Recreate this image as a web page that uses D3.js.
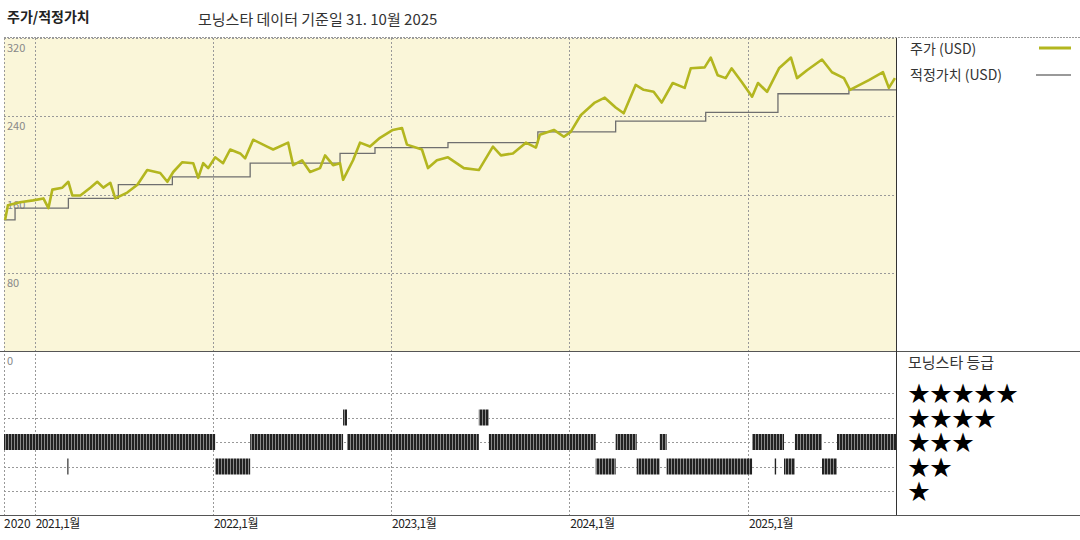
<!DOCTYPE html>
<html>
<head>
<meta charset="utf-8">
<script src="https://cdn.jsdelivr.net/npm/d3@7/dist/d3.min.js"></script>
<style>
body{margin:0;background:#fff;}
text{font-family:"Noto Sans CJK KR","DejaVu Sans",sans-serif;}
</style>
</head>
<body>
<svg width="1080" height="540"></svg>
<script>
// price (decimal year, USD)
var priceT = [2020.836,2020.852,2020.920,2020.993,2021.049,2021.077,2021.099,2021.155,2021.189,2021.211,2021.256,2021.312,2021.351,2021.385,2021.424,2021.452,2021.519,2021.576,2021.631,2021.704,2021.744,2021.777,2021.828,2021.889,2021.917,2021.945,2021.973,2022.013,2022.057,2022.097,2022.153,2022.181,2022.226,2022.304,2022.338,2022.422,2022.450,2022.500,2022.545,2022.601,2022.629,2022.674,2022.713,2022.730,2022.786,2022.825,2022.881,2022.937,2023.010,2023.061,2023.089,2023.173,2023.207,2023.257,2023.319,2023.408,2023.492,2023.571,2023.616,2023.683,2023.756,2023.812,2023.834,2023.913,2023.969,2024.008,2024.064,2024.143,2024.199,2024.260,2024.305,2024.372,2024.417,2024.473,2024.518,2024.580,2024.647,2024.681,2024.759,2024.793,2024.832,2024.877,2024.910,2024.967,2025.023,2025.056,2025.107,2025.174,2025.241,2025.275,2025.331,2025.415,2025.471,2025.538,2025.572,2025.678,2025.757,2025.790,2025.824];
var priceV = [134,149,152,154,156,146,165,167,173,159,159,167,173,167,172,156,162,170,185,182,173,183,193,192,177,192,187,198,192,206,202,197,216,209,206,213,190,195,183,187,200,190,192,175,195,213,209,218,226,228,211,206,187,195,198,187,185,209,200,202,213,208,221,226,219,224,241,254,259,249,243,272,267,265,254,274,269,289,290,300,282,279,289,275,260,274,265,289,300,279,287,298,285,279,267,277,285,269,279];

// fair value steps
var fairT = [2020.830,2020.892,2021.189,2021.469,2021.772,2022.209,2022.713,2022.909,2023.319,2023.823,2024.260,2024.765,2025.168,2025.566];
var fairV = [134,146,156,170,178,192,202,208,213,224,235,244,263,267];

// star rating periods
var rateStart = [2020.830,2022.209,2022.752,2023.548,2024.260,2024.507,2025.023,2025.263,2025.499, 2022.730,2023.492, 2021.183,2022.013,2024.148,2024.378,2024.546,2025.150,2025.202,2025.415];
var rateEnd   = [2022.013,2022.730,2023.492,2024.148,2024.378,2024.546,2025.202,2025.415,2025.830, 2022.752,2023.548, 2021.188,2022.209,2024.260,2024.507,2025.023,2025.156,2025.263,2025.499];
var rateStars = [3,3,3,3,3,3,3,3,3, 4,4, 2,2,2,2,2,2,2,2];

var yTicks = [0,80,160,240,320];
var yearTicks = [2021,2022,2023,2024,2025];
var yearLabels = ["2021,1월","2022,1월","2023,1월","2024,1월","2025,1월"];
var starLevels = [5,4,3,2,1];

function toDate(t){
  var yy = Math.floor(t);
  return new Date(Date.UTC(yy,0,1) + (t-yy)*365.25*864e5);
}

(function(){
var svg = d3.select("svg");
var left = 4, right = 896, pTop = 38, mid = 351, bottom = 515;

var x = d3.scaleTime().domain([toDate(2020.83), toDate(2025.83)]).range([left, right]);
var y = d3.scaleLinear().domain([0,320]).range([mid, pTop]);
var yr = d3.scaleLinear().domain([1,5]).range([491,393]);

// background
svg.append("rect").attr("x",left).attr("y",pTop).attr("width",right-left).attr("height",mid-pTop).attr("fill","#faf6d9");

var grid = svg.append("g").attr("stroke","#999").attr("stroke-dasharray","2,2").attr("stroke-width",1);
yTicks.slice(1).forEach(function(v){
  grid.append("line").attr("x1",left).attr("x2",right).attr("y1",Math.round(y(v))+0.5).attr("y2",Math.round(y(v))+0.5);
});
starLevels.forEach(function(s){
  grid.append("line").attr("x1",left).attr("x2",right).attr("y1",Math.round(yr(s))+0.5).attr("y2",Math.round(yr(s))+0.5);
});
yearTicks.forEach(function(t){
  var px = Math.round(x(toDate(t)))+0.5;
  grid.append("line").attr("x1",px).attr("x2",px).attr("y1",pTop).attr("y2",bottom);
});
grid.append("line").attr("x1",left+0.5).attr("x2",left+0.5).attr("y1",pTop).attr("y2",bottom);

// y labels
svg.append("g").selectAll("text").data(yTicks).enter().append("text")
  .attr("x",7).attr("y",function(d){return y(d)+14;})
  .attr("font-size",11).attr("fill","#888").text(function(d){return d;});

// rating bars with a vertical-line texture
var pat = svg.append("defs").append("pattern").attr("id","ticks")
  .attr("patternUnits","userSpaceOnUse").attr("width",3).attr("height",16);
pat.append("rect").attr("width",3).attr("height",16).attr("fill","#888");
pat.append("rect").attr("width",2).attr("height",16).attr("fill","#222");

svg.append("g").selectAll("rect").data(rateStars).enter().append("rect")
  .attr("x",function(d,i){return x(toDate(rateStart[i]));})
  .attr("width",function(d,i){return Math.max(1.5, x(toDate(rateEnd[i]))-x(toDate(rateStart[i])));})
  .attr("y",function(d){return yr(d)-8;})
  .attr("height",16)
  .attr("fill","url(#ticks)");

// fair value
var fair = fairT.map(function(t,i){return [toDate(t), fairV[i]];});
fair.push([toDate(2025.83), fairV[fairV.length-1]]);
svg.append("path").datum(fair)
  .attr("d", d3.line().x(function(d){return x(d[0]);}).y(function(d){return y(d[1]);}).curve(d3.curveStepAfter))
  .attr("fill","none").attr("stroke","#6f6f6f").attr("stroke-width",1.3);

// price
var price = priceT.map(function(t,i){return [toDate(t), priceV[i]];});
svg.append("path").datum(price)
  .attr("d", d3.line().x(function(d){return x(d[0]);}).y(function(d){return y(d[1]);}))
  .attr("fill","none").attr("stroke","#b3b61f").attr("stroke-width",2.6).attr("stroke-linejoin","round");

// frame
svg.append("line").attr("x1",left).attr("x2",1080).attr("y1",pTop-0.5).attr("y2",pTop-0.5).attr("stroke","#999").attr("stroke-dasharray","2,1");
svg.append("line").attr("x1",0).attr("x2",1080).attr("y1",mid+0.5).attr("y2",mid+0.5).attr("stroke","#555");
svg.append("line").attr("x1",0).attr("x2",1080).attr("y1",bottom+0.5).attr("y2",bottom+0.5).attr("stroke","#555");
svg.append("line").attr("x1",right+0.5).attr("x2",right+0.5).attr("y1",pTop).attr("y2",bottom).attr("stroke","#333");

// x labels
svg.append("text").attr("x",4).attr("y",528).attr("font-size",12).attr("fill","#222").text("2020");
svg.append("g").selectAll("text").data(yearTicks).enter().append("text")
  .attr("x",function(d){return x(toDate(d))+1;}).attr("y",528)
  .attr("font-size",12).attr("fill","#222").attr("letter-spacing",-0.5)
  .text(function(d,i){return yearLabels[i];});

// titles
svg.append("text").attr("x",7).attr("y",22).attr("font-size",14).attr("font-weight","bold").attr("fill","#222").text("주가/적정가치");
svg.append("text").attr("x",198).attr("y",25).attr("font-size",15).attr("fill","#333").text("모닝스타 데이터 기준일 31. 10월 2025");

// legend
svg.append("text").attr("x",910).attr("y",54).attr("font-size",14).attr("fill","#333").text("주가 (USD)");
svg.append("line").attr("x1",1039).attr("x2",1071).attr("y1",48).attr("y2",48).attr("stroke","#b3b61f").attr("stroke-width",3);
svg.append("text").attr("x",910).attr("y",80).attr("font-size",14).attr("fill","#333").text("적정가치 (USD)");
svg.append("line").attr("x1",1036).attr("x2",1071).attr("y1",75).attr("y2",75).attr("stroke","#777").attr("stroke-width",1.3);

svg.append("text").attr("x",908).attr("y",368).attr("font-size",15).attr("fill","#333").text("모닝스타 등급");
svg.append("g").selectAll("text").data(starLevels).enter().append("text")
  .attr("x",908).attr("y",function(d){return yr(d)+8;})
  .attr("font-size",22).attr("fill","#000").attr("font-family","DejaVu Sans")
  .text(function(d){return "★".repeat(d);});
})();
</script>
</body>
</html>
